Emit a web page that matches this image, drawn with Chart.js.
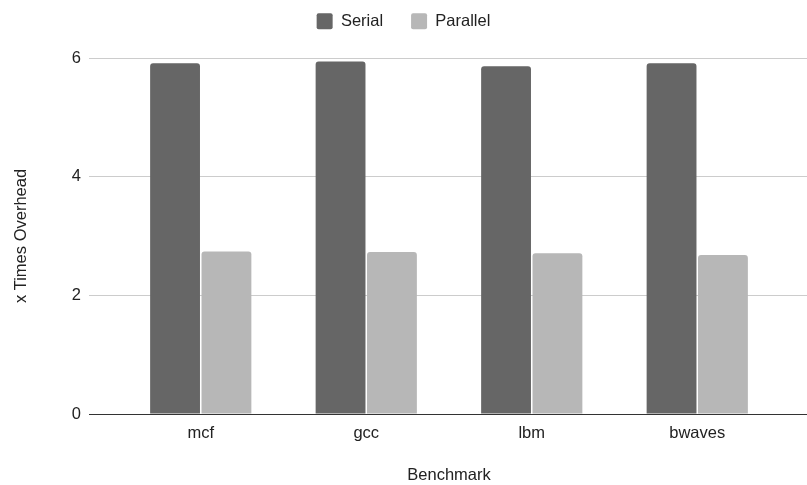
<!DOCTYPE html>
<html lang="en">
<head>
  <meta charset="UTF-8">
  <title>x Times Overhead</title>
  <script src="https://cdn.jsdelivr.net/npm/chart.js"></script>
  <style>
    body { margin: 0; background: #fff; }
    #wrap { width: 807px; height: 485px; }
  </style>
</head>
<body>
  <div id="wrap"><canvas id="chart"></canvas></div>
  <script>
    const benchmarks = ['mcf', 'gcc', 'lbm', 'bwaves'];
    const serial = [5.91, 5.94, 5.86, 5.91];
    const parallel = [2.74, 2.73, 2.71, 2.68];
    const yTicks = [0, 2, 4, 6];

    const font = "Arial, 'Liberation Sans', sans-serif";
    const size = 16.5;
    const lineColor = ctx => ctx.tick && ctx.tick.value === 0 ? '#333333' : '#cccccc';

    // legend sits high, with extra room below it before the plot
    const legendGap = {
      id: 'legendGap',
      beforeInit(chart) {
        const fit = chart.legend.fit;
        chart.legend.fit = function () {
          fit.bind(chart.legend)();
          this.height += 18.5;
        };
      }
    };

    new Chart(document.getElementById('chart'), {
      type: 'bar',
      data: {
        labels: benchmarks,
        datasets: [
          { label: 'Serial', data: serial, backgroundColor: '#666666',
            borderRadius: { topLeft: 3, topRight: 3 }, borderSkipped: 'start' },
          { label: 'Parallel', data: parallel, backgroundColor: '#b7b7b7',
            borderRadius: { topLeft: 3, topRight: 3 }, borderSkipped: 'start' }
        ]
      },
      options: {
        responsive: true,
        maintainAspectRatio: false,
        animation: false,
        categoryPercentage: 0.621,
        barPercentage: 0.97,
        layout: { padding: { top: -15, left: 0, right: 0, bottom: 0 } },
        plugins: {
          legend: {
            position: 'top',
            labels: {
              font: { family: font, size: size },
              color: '#222222',
              boxWidth: 16,
              boxHeight: 16,
              padding: 28,
              useBorderRadius: true,
              borderRadius: 2
            }
          },
          tooltip: { enabled: false }
        },
        scales: {
          x: {
            grid: { display: false, drawTicks: false },
            border: { display: false },
            ticks: { font: { family: font, size: size }, color: '#222222', padding: 10 },
            title: { display: true, text: 'Benchmark', font: { family: font, size: size },
                     color: '#222222', padding: { top: 24, bottom: 0 } },
            afterFit: s => { s.height = 71; }
          },
          y: {
            min: 0, max: 6,
            afterBuildTicks: s => { s.ticks = yTicks.map(v => ({ value: v })); },
            grid: { color: lineColor, tickColor: lineColor, tickLength: 29, drawTicks: true },
            border: { display: false },
            ticks: { font: { family: font, size: size }, color: '#222222', padding: 8 },
            title: { display: true, text: 'x Times Overhead', font: { family: font, size: size },
                     color: '#222222', padding: { top: 12, bottom: 0 } },
            afterFit: s => { s.width = 118; }
          },
          y2: {
            position: 'right',
            min: 0, max: 6,
            afterBuildTicks: s => { s.ticks = yTicks.map(v => ({ value: v })); },
            grid: { drawOnChartArea: false, color: lineColor, tickColor: lineColor, tickLength: 27 },
            border: { display: false },
            ticks: { display: false },
            afterFit: s => { s.width = 27; }
          }
        }
      },
      plugins: [legendGap]
    });
  </script>
</body>
</html>
